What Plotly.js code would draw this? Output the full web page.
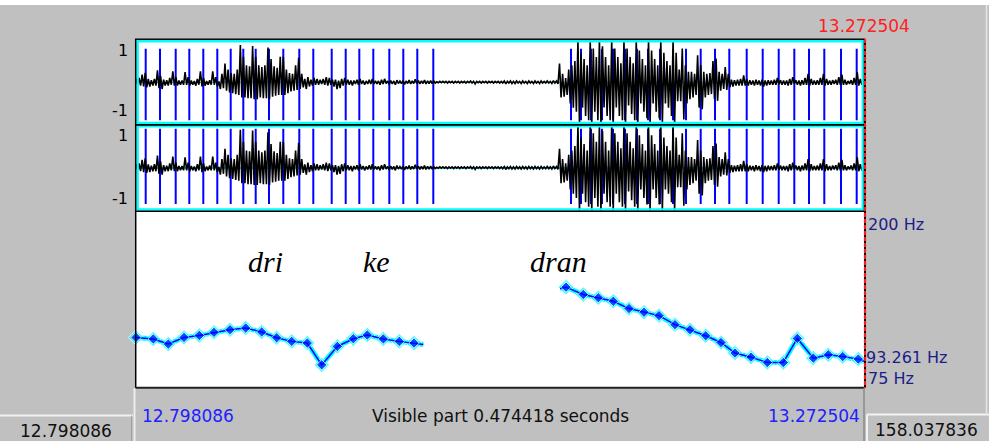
<!DOCTYPE html>
<html><head><meta charset="utf-8">
<script src="https://cdn.plot.ly/plotly-3.0.1.min.js"></script>
<style>html,body{margin:0;padding:0;background:#c0c0c0;overflow:hidden}#chart{width:989px;height:441px}</style>
</head><body><div id="chart"></div>
<script>
// ---- data (read from the Praat window) ----
const viewStart = 12.798086;
const viewEnd = 13.272504;
const visibleDuration = 0.474418;
const totalDuration = 158.037836;
const envelopeStep = 0.002; // seconds between envelope columns

// waveform envelope, % of full scale (channel 1; channel 2 is nearly identical)
const waveMax = [
 8,10,18,22,8,5,8,28,15,6,
 5,10,26,12,4,4,24,12,4,3,
 8,26,10,3,5,26,12,2,20,44,
 30,22,20,30,88,60,40,38,86,60,
 40,36,40,82,55,38,34,60,60,30,
 22,20,40,58,20,8,12,6,10,8,
 6,8,12,10,6,6,4,8,10,6,
 4,4,6,8,4,3,6,8,3,3,
 6,8,3,4,3,5,3,4,3,5,
 3,7,4,3,5,3,4,3,1,2,
 2,2,2,2,2,2,2,2,2,3,
 2,2,2,2,2,2,2,2,2,2,
 3,2,3,2,3,2,3,2,3,2,
 3,2,3,2,3,2,4,3,44,20,
 10,30,40,50,100,70,55,40,100,80,
 60,100,85,60,40,100,80,60,45,100,
 80,60,45,100,75,55,40,100,75,55,
 40,100,70,50,40,100,70,30,80,40,
 25,25,20,64,40,25,20,22,50,56,
 25,20,36,20,6,5,6,8,16,8,
 5,4,6,4,6,4,5,4,6,10,
 5,4,4,8,12,5,4,5,10,20,
 8,4,5,10,20,8,4,5,6,12,
 18,6,3,5,10,24,8,3];
const waveMin = [
 -5,-8,-10,-12,-10,-8,-8,-14,-16,-8,
 -8,-6,-8,-8,-6,-6,-6,-8,-6,-8,
 -6,-10,-8,-6,-6,-6,-10,-16,-14,-20,
 -24,-26,-28,-30,-36,-36,-38,-38,-40,-40,
 -36,-38,-38,-40,-34,-32,-30,-30,-30,-26,
 -22,-20,-18,-16,-12,-16,-10,-8,-6,-6,
 -4,-6,-8,-6,-10,-16,-14,-8,-6,-6,
 -8,-4,-6,-4,-6,-4,-4,-4,-4,-6,
 -4,-3,-5,-4,-6,-3,-3,-5,-3,-4,
 -3,-3,-4,-3,-4,-3,-3,-2,-1,-1,
 -1,-2,-1,-2,-1,-2,-1,-2,-1,-2,
 -4,-1,-2,-1,-2,-1,-2,-1,-2,-2,
 -4,-2,-3,-3,-2,-3,-2,-3,-2,-3,
 -2,-3,-2,-2,-2,-3,-2,-4,-36,-34,
 -30,-50,-60,-70,-100,-60,-80,-90,-100,-70,
 -90,-100,-60,-80,-90,-100,-60,-80,-90,-100,
 -55,-75,-90,-100,-50,-70,-85,-100,-50,-70,
 -85,-100,-50,-60,-80,-100,-45,-45,-88,-50,
 -40,-36,-30,-60,-64,-36,-30,-28,-40,-44,
 -20,-16,-18,-12,-10,-8,-8,-8,-8,-8,
 -6,-8,-6,-8,-10,-8,-6,-6,-6,-5,
 -6,-6,-8,-6,-4,-6,-8,-6,-6,-8,
 -6,-6,-6,-6,-8,-6,-6,-4,-6,-6,
 -6,-6,-4,-6,-6,-8,-6,-3];

// glottal pulses (s)
const pulseTimes = [
 12.80441,12.81373,12.82396,12.83282,12.84194,12.85107,12.85980,12.86801,12.87609,12.88475,
 12.89407,12.90450,12.91363,12.92562,12.93474,12.94361,12.95273,12.96316,12.97228,12.98140,12.99183,
 13.08157,13.08808,13.09460,13.10177,13.10894,13.11676,13.12458,13.13175,13.13957,13.14804,
 13.15651,13.16609,13.17541,13.18472,13.19606,13.20649,13.21692,13.22709,13.23666,13.24663,
 13.25752,13.26775];

// pitch contour (s, Hz); null separates voiced stretches
const pitchTimes = [
 12.79809,12.80936,12.81914,12.82937,12.83934,12.84892,12.85935,12.86958,12.88000,12.88978,
 12.89956,12.90972,12.91911,12.92927,12.93970,12.94882,12.95925,12.96968,12.97925,12.98532,
 null,
 13.07440,13.07831,13.08958,13.09936,13.10913,13.11936,13.12914,13.13891,13.14934,13.15912,
 13.16935,13.17932,13.18844,13.19887,13.20949,13.21992,13.22904,13.23947,13.24924,13.25863,
 13.26880,13.272504];
const pitchHz = [
 110.2,109.1,105.5,110.2,111.6,113.8,115.7,116.9,114.1,110.0,
 107.4,106.2,90.7,103.8,109.3,111.9,109.1,107.4,106.2,105.2,
 null,
 144.8,145.9,140.7,138.4,135.9,130.7,128.1,125.7,119.3,115.7,
 111.4,106.6,99.1,96.2,92.4,92.4,109.5,95.5,97.9,96.6,
 94.8,93.261];
const pitchMarked = [
 1,1,1,1,1,1,1,1,1,1, 1,1,1,1,1,1,1,1,1,0,
 0,
 0,1,1,1,1,1,1,1,1,1, 1,1,1,1,1,1,1,1,1,1, 1,0];
const pitchFloor = 75, pitchCeiling = 200, pitchAtCursor = 93.261;

const syllables = ['dri','ke','dran'];
const syllableTimes = [12.88215, 12.95482, 13.07309];
const syllableHz = [164, 164, 164];

// ---- build ----
const W = 989, H = 441;
const X = p => p / W, Y = p => 1 - p / H;
const ui = 'DejaVu Sans, Verdana, sans-serif';

function waveTrace(yaxis){
  const xs = [], ys = [];
  for (let i = 0; i < waveMax.length; i++) {
    const t = viewStart + i * envelopeStep;
    xs.push(t, t + envelopeStep / 2);
    ys.push(waveMax[i] / 100, waveMin[i] / 100);
  }
  return {x: xs, y: ys, xaxis: 'x', yaxis: yaxis, type: 'scatter', mode: 'lines',
    line: {color: '#000000', width: 1.6}, hoverinfo: 'skip'};
}
function pulseTrace(yaxis, top, bottom){
  const xs = [], ys = [];
  pulseTimes.forEach(t => { xs.push(t, t, null); ys.push(top, bottom, null); });
  return {x: xs, y: ys, xaxis: 'x', yaxis: yaxis, type: 'scatter', mode: 'lines',
    line: {color: '#0000ff', width: 2}, hoverinfo: 'skip'};
}

const traces = [
  pulseTrace('y', 0.79, -0.9),
  waveTrace('y'),
  pulseTrace('y2', 0.9, -0.84),
  waveTrace('y2'),
  {x: pitchTimes, y: pitchHz, xaxis: 'x', yaxis: 'y3', type: 'scatter', mode: 'lines+markers',
   connectgaps: false, cliponaxis: false,
   line: {color: '#00ffff', width: 5},
   marker: {symbol: 'diamond', color: '#00ffff', size: pitchMarked.map(m => m ? 12 : 0)}, hoverinfo: 'skip'},
  {x: pitchTimes, y: pitchHz, xaxis: 'x', yaxis: 'y3', type: 'scatter', mode: 'lines+markers',
   connectgaps: false, cliponaxis: false,
   line: {color: '#0000ff', width: 1.5},
   marker: {symbol: 'diamond', color: '#0000ff', size: pitchMarked.map(m => m ? 8 : 0)}, hoverinfo: 'skip'}
];

const hidden = {showgrid: false, showticklabels: false, ticks: '', showline: false, fixedrange: true};
const layout = {
  width: W, height: H, autosize: false,
  margin: {l: 0, r: 0, t: 0, b: 0, pad: 0},
  paper_bgcolor: '#c0c0c0', plot_bgcolor: '#ffffff',
  showlegend: false,
  xaxis: Object.assign({}, hidden, {domain: [X(136), X(864)], range: [viewStart, viewEnd], anchor: 'y3', zeroline: false}),
  yaxis: Object.assign({}, hidden, {domain: [Y(124.5), Y(40)], range: [-1, 1], anchor: 'x',
     zeroline: true, zerolinecolor: '#00e8e8', zerolinewidth: 1.5}),
  yaxis2: Object.assign({}, hidden, {domain: [Y(211), Y(124.5)], range: [-1, 1], anchor: 'x',
     zeroline: true, zerolinecolor: '#00e8e8', zerolinewidth: 1.5}),
  yaxis3: Object.assign({}, hidden, {domain: [Y(387), Y(211)], range: [pitchFloor, pitchCeiling], anchor: 'x', zeroline: false}),
  shapes: [
    {type: 'rect', xref: 'paper', yref: 'paper', x0: 0, x1: 1, y0: Y(5), y1: 1, fillcolor: '#ffffff', line: {width: 0}, layer: 'below'},
    // waveform frames
    {type: 'rect', xref: 'paper', yref: 'paper', x0: X(137.6), x1: X(862.8), y0: Y(123), y1: Y(41.2), line: {color: '#00ffff', width: 2.5}},
    {type: 'rect', xref: 'paper', yref: 'paper', x0: X(137.6), x1: X(862.8), y0: Y(209.5), y1: Y(126.2), line: {color: '#00ffff', width: 2.5}},
    {type: 'rect', xref: 'paper', yref: 'paper', x0: X(135.7), x1: X(864.5), y0: Y(124.8), y1: Y(39.2), line: {color: '#000000', width: 1.5}},
    {type: 'rect', xref: 'paper', yref: 'paper', x0: X(135.7), x1: X(864.5), y0: Y(211.3), y1: Y(124.8), line: {color: '#000000', width: 1.5}},
    // pitch frame
    {type: 'line', xref: 'paper', yref: 'paper', x0: X(135.7), x1: X(135.7), y0: Y(211), y1: Y(388), line: {color: '#000000', width: 1.5}},
    {type: 'line', xref: 'paper', yref: 'paper', x0: X(135), x1: X(865), y0: Y(387.8), y1: Y(387.8), line: {color: '#202020', width: 2}},
    // cursor line
    {type: 'line', xref: 'paper', yref: 'paper', x0: X(865), x1: X(865), y0: Y(39), y1: Y(388), line: {color: '#000000', width: 2}},
    {type: 'line', xref: 'paper', yref: 'paper', x0: X(865), x1: X(865), y0: Y(39), y1: Y(388), line: {color: '#ff1a1a', width: 2.2, dash: '4px,2px'}},
    // bottom bar edges and boxes
    {type: 'line', xref: 'paper', yref: 'paper', x0: X(134.5), x1: X(134.5), y0: Y(388), y1: 0, line: {color: '#ececec', width: 2}},
    {type: 'line', xref: 'paper', yref: 'paper', x0: X(864), x1: X(864), y0: Y(388), y1: 0, line: {color: '#8a8a8a', width: 1.5}},
    {type: 'line', xref: 'paper', yref: 'paper', x0: 0, x1: X(133), y0: Y(415.5), y1: Y(415.5), line: {color: '#f2f2f2', width: 2}},
    {type: 'line', xref: 'paper', yref: 'paper', x0: X(131.5), x1: X(131.5), y0: Y(415.5), y1: 0, line: {color: '#a0a0a0', width: 1}},
    {type: 'line', xref: 'paper', yref: 'paper', x0: X(867), x1: 1, y0: Y(414.5), y1: Y(414.5), line: {color: '#f2f2f2', width: 2}},
    {type: 'line', xref: 'paper', yref: 'paper', x0: X(867), x1: X(867), y0: Y(414.5), y1: 0, line: {color: '#f2f2f2', width: 2}},
    {type: 'line', xref: 'paper', yref: 'paper', x0: X(986.5), x1: X(986.5), y0: Y(5), y1: Y(413), line: {color: '#e6e6e6', width: 1.5}}
  ],
  annotations: []
};

const A = layout.annotations;
function txt(text, x, y, xanchor, color, size, extra){
  A.push(Object.assign({text: text, xref: 'paper', yref: 'paper', x: X(x), y: Y(y), xanchor: xanchor, yanchor: 'middle',
    showarrow: false, font: {family: ui, size: size, color: color}}, extra || {}));
}
txt(viewEnd.toFixed(6), 864, 26, 'center', '#ff2020', 17);
txt(viewStart.toFixed(6), 140, 416, 'left', '#2020ff', 17);
txt('Visible part ' + visibleDuration.toFixed(6) + ' seconds', 500, 416, 'center', '#101010', 17);
txt(viewEnd.toFixed(6), 862, 416, 'right', '#2020ff', 17);
txt(viewStart.toFixed(6), 66, 431, 'center', '#101010', 17);
txt(totalDuration.toFixed(6), 873, 430, 'left', '#101010', 17);
// amplitude labels
[['y', 0.75, '1'], ['y', -0.67, '-1'], ['y2', 0.74, '1'], ['y2', -0.70, '-1']].forEach(a => {
  A.push({text: a[2], xref: 'paper', yref: a[0], x: X(129.5), y: a[1], xanchor: 'right', yanchor: 'middle',
    showarrow: false, font: {family: ui, size: 16, color: '#000000'}});
});
// pitch labels (Praat places the ceiling label at the top, the floor label at the bottom)
txt(pitchCeiling + ' Hz', 866, 224, 'left', '#1c1c8a', 16);
txt(pitchAtCursor.toFixed(3) + ' Hz', 864, 357, 'left', '#1c1c8a', 16);
txt(pitchFloor + ' Hz', 866, 378, 'left', '#1c1c8a', 16);
// syllables
syllables.forEach((s, i) => {
  A.push({text: '<i>' + s + '</i>', xref: 'x', yref: 'y3', x: syllableTimes[i], y: syllableHz[i], xanchor: 'center', yanchor: 'middle',
    showarrow: false, font: {family: "'Liberation Serif', 'Times New Roman', serif", size: 30, color: '#000000'}});
});

Plotly.newPlot('chart', traces, layout, {staticPlot: true, displayModeBar: false});
</script>
</body></html>
